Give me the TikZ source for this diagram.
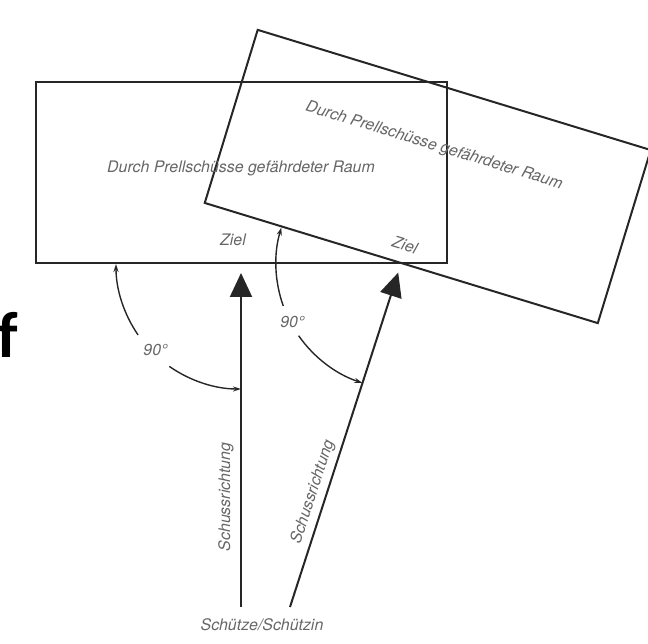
\documentclass[tikz,border=0pt]{standalone}
\usepackage{fontspec}
\setmainfont{TeX Gyre Heros}
\newfontfamily\bigf{Carlito}
\usetikzlibrary{arrows.meta}
\begin{document}
\begin{tikzpicture}[x=1pt,y=1pt,
  line/.style={draw=black!85,line width=2pt},
  raum/.style={line,minimum width=411pt,minimum height=181pt,inner sep=0pt,anchor=south},
  shot/.style={line,-{Triangle[length=24pt,width=22pt]},shorten >=9pt},
  turn/.style={draw=black!85,line width=1.4pt,-{Stealth[length=8pt,width=5pt]}},
  lbl/.style={text=black!60,font=\fontsize{15.9}{19}\selectfont\itshape,inner sep=0pt}]
\useasboundingbox (0,0) rectangle (648,644);
% Ziele und Standorte
\coordinate (ziel1) at (241,380);
\coordinate (ziel2) at (401,380);
\coordinate (schuetze1) at (241,37);
\coordinate (schuetze2) at (290,37);
% gefaehrdete Raeume
\node[raum] (raum1) at (ziel1) {};
\node[raum,rotate=-17] (raum2) at (ziel2) {};
\node[lbl] (text1) at (241,476) {Durch Prellschüsse gefährdeter Raum};
\node[lbl,rotate=-17] (text2) at (434,498) {Durch Prellschüsse gefährdeter Raum};
\node[lbl] (zl1) at (233,404) {Ziel};
\node[lbl,rotate=-17] (zl2) at (405,399) {Ziel};
% Schussrichtungen
\draw[shot] (schuetze1) -- (ziel1);
\draw[shot] (schuetze2) -- (ziel2);
\node[lbl,rotate=90] (sr1) at (226,147) {Schussrichtung};
\node[lbl,rotate=72] (sr2) at (313,152) {Schussrichtung};
\node[lbl] (schuetze) at (262,19) {Schütze/Schützin};
% Winkel
\draw[turn] ([shift={(214.6:125)}]ziel1) arc[start angle=214.6,end angle=180,radius=125];
\draw[turn] ([shift={(235:125)}]ziel1) arc[start angle=235,end angle=270,radius=125];
\node[lbl] (w1) at ([shift={(225:121)}]ziel1) {90°};
\draw[turn] ([shift={(199.6:125)}]ziel2) arc[start angle=199.6,end angle=163,radius=125];
\draw[turn] ([shift={(215:125)}]ziel2) arc[start angle=215,end angle=252,radius=125];
\node[lbl] (w2) at ([shift={(208:123)}]ziel2) {90°};
\node[font=\bigf\bfseries\fontsize{65}{65}\selectfont,anchor=base west,inner sep=0pt] (f) at (-3,286) {f};
\end{tikzpicture}
\end{document}
